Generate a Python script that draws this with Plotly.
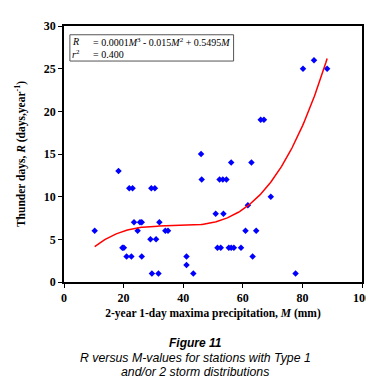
import numpy as np
import plotly.graph_objects as go

# Station data: M (mm) and R (days/year)
M_vals = [10.3, 18.3, 19.6, 20.1, 21.0, 22.6, 21.9, 23.0, 23.5, 24.7, 25.5, 26.1, 26.1,
          29.0, 30.9, 29.3, 30.5, 32.0, 34.0, 34.9, 41.1, 41.1, 29.5, 31.7, 43.4, 77.7,
          46.0, 46.2, 50.9, 53.5, 51.5, 52.6, 52.2, 53.3, 54.5, 56.1, 55.3, 56.1, 57.0,
          59.4, 60.9, 61.7, 62.9, 63.3, 64.5, 69.4, 66.0, 67.1, 80.2, 83.9, 88.3]
R_vals = [6, 13, 4, 4, 3, 3, 11, 11, 7, 6, 7, 7, 3,
          5, 5, 11, 11, 7, 6, 6, 3, 2, 1, 1, 1, 1,
          15, 12, 8, 8, 4, 4, 12, 12, 12, 14, 4, 4, 4,
          4, 6, 9, 14, 3, 6, 10, 19, 19, 25, 26, 25]

# Cubic trendline through the origin, least-squares fit to the data
Ma = np.array(M_vals)
Ra = np.array(R_vals, dtype=float)
A = np.vstack([Ma**3, Ma**2, Ma]).T
coef, *_ = np.linalg.lstsq(A, Ra, rcond=None)
M_line = np.linspace(min(M_vals), max(M_vals), 200)
R_line = coef[0]*M_line**3 + coef[1]*M_line**2 + coef[2]*M_line

serif = "Liberation Serif, Times New Roman, serif"
sans = "Liberation Sans, Arial, sans-serif"

fig = go.Figure()
fig.add_trace(go.Scatter(x=M_vals, y=R_vals, mode="markers",
                         marker=dict(symbol="diamond", size=5, color="#0000FF"),
                         showlegend=False, cliponaxis=False))
fig.add_trace(go.Scatter(x=M_line, y=R_line, mode="lines",
                         line=dict(color="#FF0000", width=1.5), showlegend=False))

fig.update_layout(
    width=374, height=384,
    margin=dict(l=56, r=14, t=11, b=110),
    paper_bgcolor="white", plot_bgcolor="white",
    xaxis=dict(range=[0, 100], dtick=20, showgrid=False, zeroline=False,
               showline=True, linecolor="black", linewidth=1.5, mirror=True,
               ticks="outside", ticklen=4, tickcolor="black",
               tickfont=dict(family=serif, size=12, color="black", weight="bold"),
               title=dict(text="2-year 1-day maxima precipitation, <i>M</i> (mm)",
                          font=dict(family=serif, size=11.5, color="black", weight="bold"),
                          standoff=5)),
    yaxis=dict(range=[0, 30], dtick=5, showgrid=False, zeroline=False,
               showline=True, linecolor="black", linewidth=1.5, mirror=True,
               ticks="outside", ticklen=4, tickcolor="black",
               tickfont=dict(family=serif, size=12, color="black", weight="bold"),
               title=dict(text="Thunder days, <i>R</i> (days,year<sup>-1</sup>)",
                          font=dict(family=serif, size=11.5, color="black", weight="bold"),
                          standoff=16)),
)

# Equation box
fig.add_shape(type="rect", xref="paper", yref="paper",
              x0=(62-56)/304, x1=(229-56)/304, y0=(274-47)/263, y1=(274-20)/263,
              line=dict(color="#555555", width=1), fillcolor="white")
fig.add_annotation(xref="paper", yref="paper", x=(62-56)/304, y=(274-27)/263,
                   text="<i>R</i>", showarrow=False, xanchor="left", yanchor="middle",
                   font=dict(family=serif, size=10, color="black"))
fig.add_annotation(xref="paper", yref="paper", x=(84-56)/304, y=(274-27)/263,
                   text="= 0.0001<i>M</i><sup>3</sup> - 0.015<i>M</i><sup>2</sup> + 0.5495<i>M</i>",
                   showarrow=False, xanchor="left", yanchor="middle",
                   font=dict(family=serif, size=10, color="black"))
fig.add_annotation(xref="paper", yref="paper", x=(62-56)/304, y=(274-40)/263,
                   text="<i>r</i><sup>2</sup>", showarrow=False, xanchor="left", yanchor="middle",
                   font=dict(family=serif, size=10, color="black"))
fig.add_annotation(xref="paper", yref="paper", x=(84-56)/304, y=(274-40)/263,
                   text="= 0.400", showarrow=False, xanchor="left", yanchor="middle",
                   font=dict(family=serif, size=10, color="black"))

# Caption
fig.add_annotation(xref="paper", yref="paper", x=(190-56)/304, y=(274-337)/263,
                   text="<b><i>Figure 11</i></b>", showarrow=False,
                   xanchor="center", yanchor="middle",
                   font=dict(family=sans, size=12, color="black"))
fig.add_annotation(xref="paper", yref="paper", x=(190-56)/304, y=(274-352)/263,
                   text="<i>R versus M-values for stations with Type 1</i>", showarrow=False,
                   xanchor="center", yanchor="middle",
                   font=dict(family=sans, size=12.3, color="black"))
fig.add_annotation(xref="paper", yref="paper", x=(190-56)/304, y=(274-366)/263,
                   text="<i>and/or 2 storm distributions</i>", showarrow=False,
                   xanchor="center", yanchor="middle",
                   font=dict(family=sans, size=12.3, color="black"))

fig.write_html("out.html")
